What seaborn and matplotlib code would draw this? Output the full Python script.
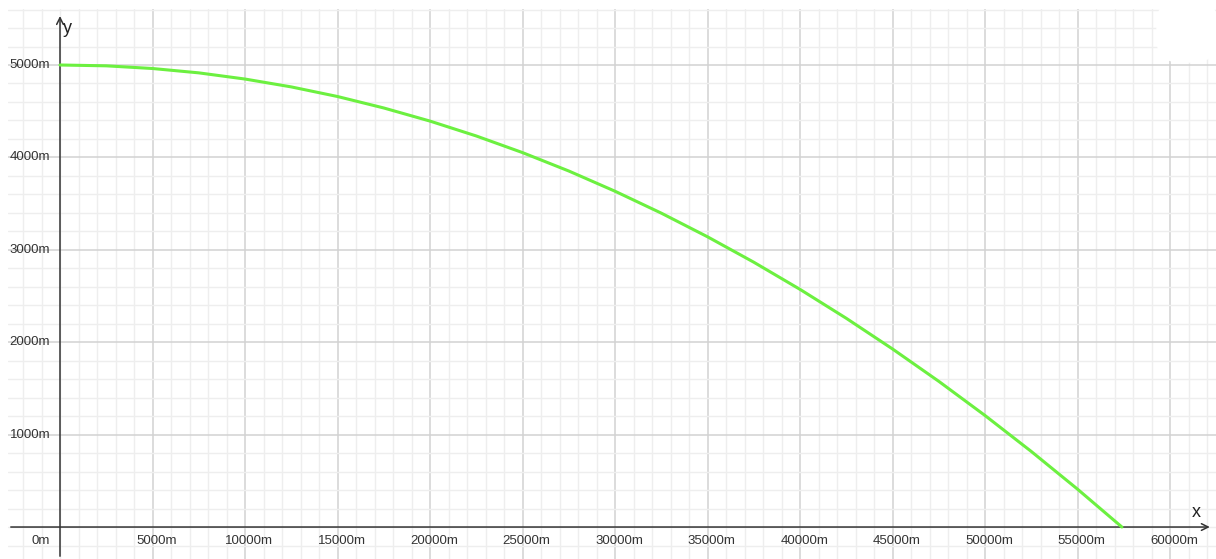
import matplotlib.pyplot as plt
import seaborn as sns
import pandas as pd
from matplotlib.patches import FancyBboxPatch

# values (metres)
distance_x = [0, 2500, 5000, 7500, 10000, 12500, 15000, 17500, 20000, 22500, 25000,
              27500, 30000, 32500, 35000, 37500, 40000, 42500, 45000, 47500, 50000,
              52500, 55000, 57400]
height_y = [5000, 4991, 4962, 4915, 4848, 4763, 4659, 4535, 4393, 4232, 4052,
            3853, 3634, 3397, 3141, 2866, 2572, 2259, 1927, 1577, 1207,
            818, 410, 0]
x_ticks = [5000, 10000, 15000, 20000, 25000, 30000, 35000, 40000, 45000, 50000, 55000, 60000]
y_ticks = [1000, 2000, 3000, 4000, 5000]

df = pd.DataFrame({'x': distance_x, 'y': height_y})

sns.set_style('white')
plt.rcParams['font.family'] = ['Liberation Sans', 'DejaVu Sans']

fig = plt.figure(figsize=(12.16, 5.59), dpi=100)
ax = fig.add_axes([8 / 1216, 0, 1208 / 1216, 550 / 559])

xmin, xmax = -2811, 62486
ymin, ymax = -346, 5606
ax.set_xlim(xmin, xmax)
ax.set_ylim(ymin, ymax)

# grid
ax.set_xticks(x_ticks)
ax.set_yticks(y_ticks)
ax.set_xticks(range(-2000, 63000, 1000), minor=True)
ax.set_yticks(range(-200, 5700, 200), minor=True)
ax.grid(which='minor', color='#eeeeee', linewidth=1)
ax.grid(which='major', color='#d2d2d2', linewidth=1.1)
ax.set_axisbelow(True)
for s in ax.spines.values():
    s.set_visible(False)
ax.tick_params(which='both', length=0)
ax.set_xticklabels([])
ax.set_yticklabels([])

# the curve
sns.lineplot(data=df, x='x', y='y', color='#6cf040', linewidth=2.2, ax=ax, zorder=5)
ax.set_xlabel('')
ax.set_ylabel('')

# axes with arrows
ax.annotate('', xy=(62300, 0), xytext=(xmin, 0),
            arrowprops=dict(arrowstyle='->', color='#333333', lw=1.1, mutation_scale=12))
ax.annotate('', xy=(0, 5560), xytext=(0, ymin),
            arrowprops=dict(arrowstyle='->', color='#333333', lw=1.1, mutation_scale=12))
ax.text(61400, 60, 'x', fontsize=13, color='#222222', ha='center', va='bottom')
ax.text(180, 5400, 'y', fontsize=13, color='#222222', ha='left', va='center')

# tick labels
for t in x_ticks:
    ax.annotate(f'{t}m', xy=(t, 0), xytext=(3, -6), textcoords='offset points',
                ha='center', va='top', fontsize=9.5, color='#333333')
for t in y_ticks:
    ax.annotate(f'{t}m', xy=(0, t), xytext=(-7, 0), textcoords='offset points',
                ha='right', va='center', fontsize=9.5, color='#333333')
ax.annotate('0m', xy=(0, 0), xytext=(-7, -6), textcoords='offset points',
            ha='right', va='top', fontsize=9.5, color='#333333')

# white blob in the top right corner
fig.patches.append(FancyBboxPatch((1166 / 1216, 506 / 559), 42 / 1216, 44 / 559,
                                  boxstyle='round,pad=0.008,rounding_size=0.02',
                                  transform=fig.transFigure, mutation_aspect=1216 / 559,
                                  facecolor='white', edgecolor='none', zorder=10))

fig.savefig('out.png', dpi=100)
